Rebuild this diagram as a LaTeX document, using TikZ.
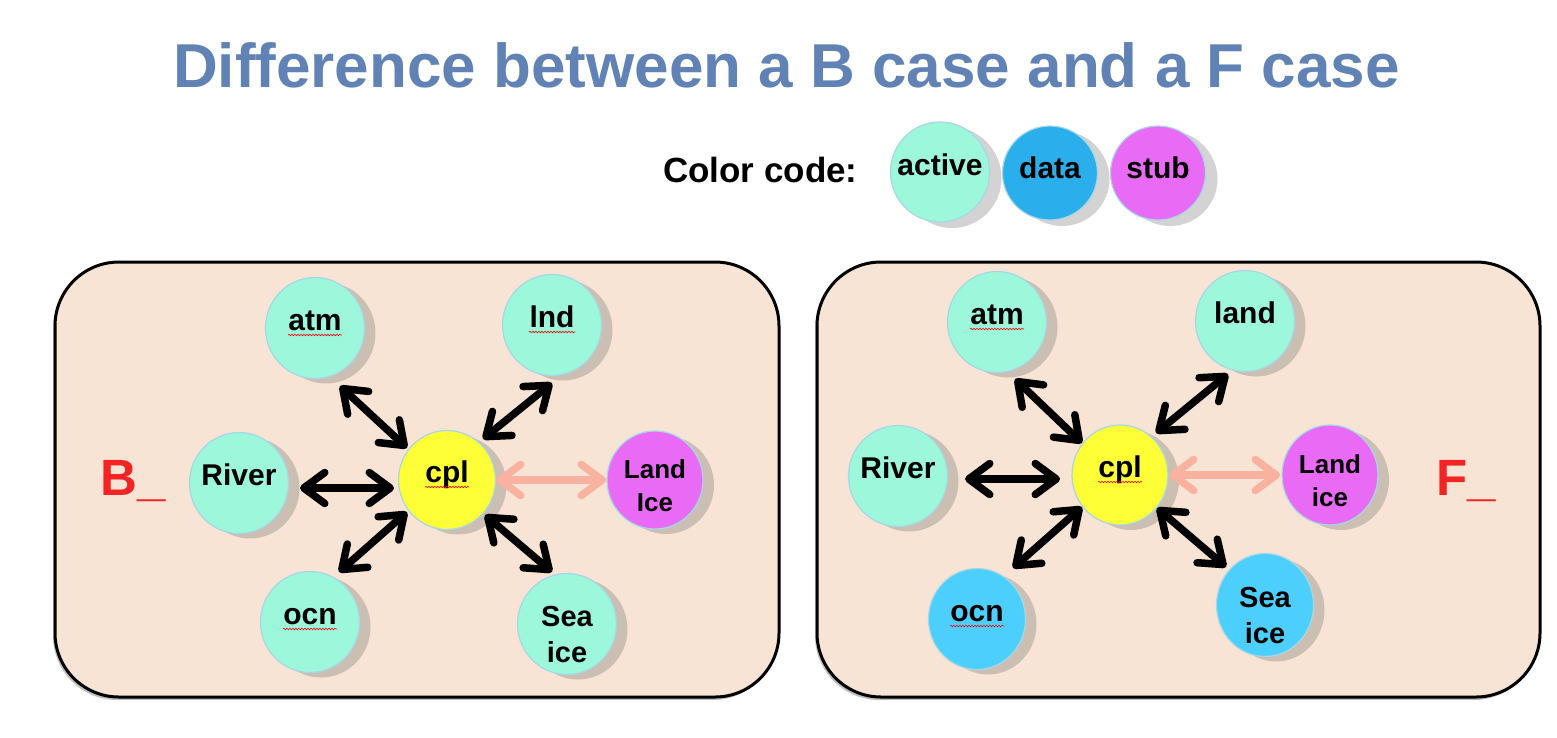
\documentclass[tikz,border=0pt]{standalone}
\usepackage{fontspec}
\setmainfont{Liberation Sans}
\usetikzlibrary{shapes.geometric,arrows.meta,shadows,calc,decorations.pathmorphing}
\definecolor{titleblue}{HTML}{6182B4}
\definecolor{mint}{HTML}{9DF7DB}
\definecolor{datalegend}{HTML}{2AAFEC}
\definecolor{datanode}{HTML}{4CCFFD}
\definecolor{stubpink}{HTML}{E96AF5}
\definecolor{cplyellow}{HTML}{FFFF38}
\definecolor{edgeblue}{HTML}{A6D7E6}
\definecolor{peach}{HTML}{F8E4D4}
\definecolor{panelshadow}{HTML}{CBBFB4}
\definecolor{legendshadow}{HTML}{D3D3D3}
\definecolor{salmon}{HTML}{F9B2A0}
\definecolor{caseRed}{HTML}{F42424}
\newcommand\nt[1]{\makebox[0pt]{#1}}
\newcommand\twoline[2]{\makebox[0pt]{\begin{tabular}{@{}c@{}}#1\\#2\end{tabular}}}
\tikzset{
  comp/.style={ellipse, draw=edgeblue, line width=1.2pt, minimum width=99pt, minimum height=101pt,
    inner sep=0pt, font=\fontsize{30}{34}\selectfont\bfseries, text height=22pt, text depth=18pt,
    general shadow={shadow xshift=11pt, shadow yshift=-5pt, fill=panelshadow}},
  landtwo/.style={comp, font=\fontsize{26}{33}\selectfont\bfseries, text height=38.8pt, text depth=10pt},
  seatwo/.style={comp, font=\fontsize{29}{36}\selectfont\bfseries, text height=50pt, text depth=10pt},
  legendcomp/.style={comp, minimum width=95pt, minimum height=94pt, text height=26pt, text depth=16pt,
    general shadow={shadow xshift=12pt, shadow yshift=-6pt, fill=legendshadow}},
  panel/.style={draw=black, line width=3pt, fill=peach, rounded corners=64pt,
    drop shadow={shadow xshift=-2pt, shadow yshift=-3pt, fill=black!50, opacity=.5}},
  barb/.tip={Straight Barb[length=21pt,width=31pt,line cap=round,line join=round]},
  link/.style={line width=7.5pt, line cap=round, line join=round, barb-barb},
  blacklink/.style={link, draw=black},
  stublink/.style={link, draw=salmon},
  squig/.style={draw=red, line width=0.6pt, decorate, decoration={snake, amplitude=0.8pt, segment length=3pt}},
  caselabel/.style={font=\fontsize{51}{56}\selectfont\bfseries, text=caseRed, anchor=base west, inner sep=0pt},
}
\begin{document}
\begin{tikzpicture}[x=1pt,y=-1pt]
\useasboundingbox (0,0) rectangle (1557,737);

% title
\node[font=\fontsize{62}{70}\selectfont\bfseries, text=titleblue, anchor=base, inner sep=0pt] (title) at (786.5,87) {Difference between a B case and a F case};

% legend
\node[font=\fontsize{35}{40}\selectfont\bfseries, anchor=base west, inner sep=0pt] (cc) at (663,182) {Color code:};
\node[legendcomp, fill=mint, minimum width=99pt, minimum height=100pt, text height=24pt, text depth=18pt] (lact) at (940,172) {\nt{active}};
\node[legendcomp, fill=datalegend] (ldata) at (1050,173) {\nt{data}};
\node[legendcomp, fill=stubpink] (lstub) at (1158,173) {\nt{stub}};

% panels
\path[panel] (55,262) rectangle (779,697);
\path[panel] (817,262) rectangle (1540,697);

% left panel (B case)
\node[caselabel] (B) at (100,495) {B\_};
\node[comp, fill=mint] (atmL) at (315,328) {\nt{atm}};
\node[comp, fill=mint] (lndL) at (552,325) {\nt{lnd}};
\node[comp, fill=mint] (riverL) at (239,483) {\nt{River}};
\node[comp, fill=cplyellow, minimum width=97pt, minimum height=99pt] (cplL) at (447,480) {\nt{cpl}};
\node[landtwo, fill=stubpink, minimum width=96pt, minimum height=98pt] (liceL) at (655,480) {\twoline{Land}{Ice}};
\node[comp, fill=mint] (ocnL) at (310,622) {\nt{ocn}};
\node[seatwo, fill=mint] (siceL) at (567,624) {\twoline{Sea}{ice}};

\draw[blacklink] ($(atmL)+(25,58)$) -- ($(cplL)+(-40,-32)$);
\draw[blacklink] ($(lndL)+(0,58)$) -- ($(cplL)+(36,-41)$);
\draw[blacklink] ($(riverL)+(61,5)$) -- ($(cplL)+(-53,8)$);
\draw[stublink] ($(cplL)+(49,0)$) -- ($(liceL)+(-49,0)$);
\draw[blacklink] ($(ocnL)+(29,-50)$) -- ($(cplL)+(-40,32)$);
\draw[blacklink] ($(siceL)+(-15,-52)$) -- ($(cplL)+(38,35)$);

\draw[squig] ($(atmL)+(-27,7)$) -- ($(atmL)+(27,7)$);
\draw[squig] ($(lndL)+(-23,7)$) -- ($(lndL)+(23,7)$);
\draw[squig] ($(cplL)+(-22,7)$) -- ($(cplL)+(22,7)$);
\draw[squig] ($(ocnL)+(-27,7)$) -- ($(ocnL)+(27,7)$);

% right panel (F case)
\node[caselabel] (F) at (1436,495) {F\_};
\node[comp, fill=mint] (atmR) at (997,322) {\nt{atm}};
\node[comp, fill=mint] (landR) at (1245,321) {\nt{land}};
\node[comp, fill=mint] (riverR) at (898,476) {\nt{River}};
\node[comp, fill=cplyellow, minimum width=96pt, minimum height=100pt] (cplR) at (1120,475) {\nt{cpl}};
\node[landtwo, fill=stubpink, minimum width=96pt, minimum height=100pt] (liceR) at (1330,475) {\twoline{Land}{ice}};
\node[comp, fill=datanode, minimum width=97pt] (ocnR) at (977,619) {\nt{ocn}};
\node[seatwo, fill=datanode, minimum width=97pt, minimum height=103pt] (siceR) at (1265,605) {\twoline{Sea}{ice}};

\draw[blacklink] ($(atmR)+(18,57)$) -- ($(cplR)+(-38,-32)$);
\draw[blacklink] ($(landR)+(-17,53)$) -- ($(cplR)+(36,-42)$);
\draw[blacklink] ($(riverR)+(67,3)$) -- ($(cplR)+(-60,4)$);
\draw[stublink] ($(cplR)+(49,0)$) -- ($(liceR)+(-50,0)$);
\draw[blacklink] ($(ocnR)+(36,-51)$) -- ($(cplR)+(-38,32)$);
\draw[blacklink] ($(siceR)+(-39,-38)$) -- ($(cplR)+(37,33)$);

\draw[squig] ($(atmR)+(-27,7)$) -- ($(atmR)+(27,7)$);
\draw[squig] ($(cplR)+(-22,7)$) -- ($(cplR)+(22,7)$);
\draw[squig] ($(ocnR)+(-27,7)$) -- ($(ocnR)+(27,7)$);
\end{tikzpicture}
\end{document}
